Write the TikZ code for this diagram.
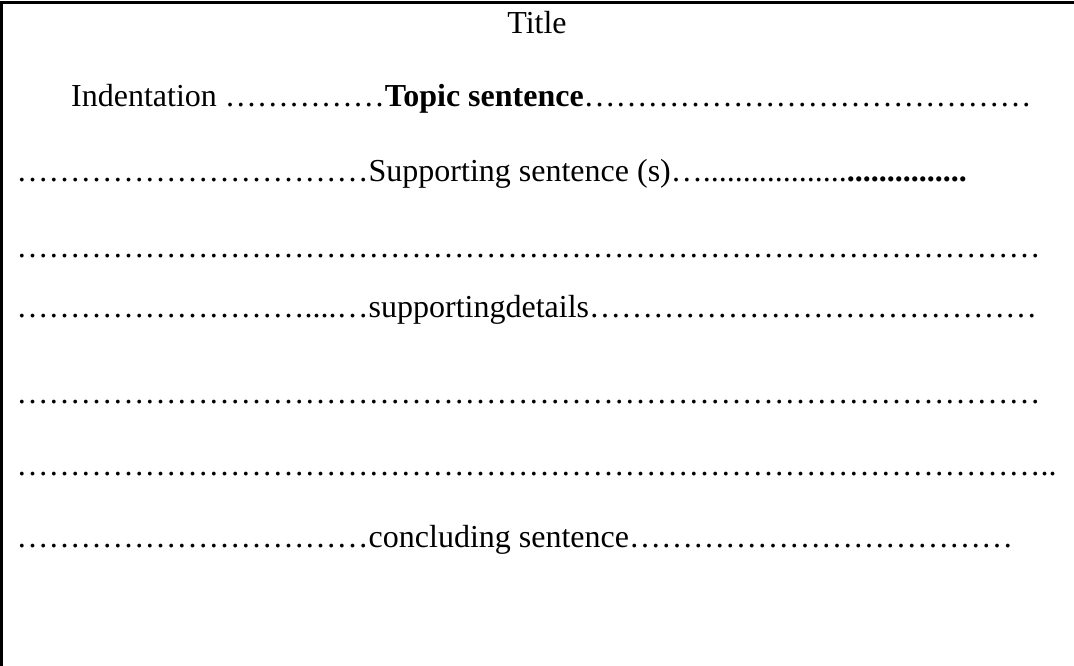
\documentclass[tikz,border=0pt]{standalone}
\usepackage{fontspec}
\setmainfont{Liberation Serif}
\newcommand\repx[2]{\foreach \k in {1,...,#1}{#2}}
\begin{document}
\begin{tikzpicture}[x=1pt,y=-1pt,
  txt/.style={font=\fontsize{32}{38}\selectfont, inner sep=0pt, anchor=base west},
  frame/.style={line width=3pt}]
\useasboundingbox (0,0) rectangle (1074,666);
\draw[frame] (1.5,666) -- (1.5,2.5) -- (1074,2.5);
\node[txt, anchor=base] (title) at (537,34) {Title};
\node[txt] (topic) at (71,107) {Indentation \repx{5}{…}\textbf{Topic sentence}\repx{14}{…}};
\node[txt] (support) at (16.5,182) {\repx{11}{…}Supporting sentence (s)…\repx{18}{.}\textbf{\repx{15}{.}}};
\node[txt] (row4) at (16.5,257) {\repx{32}{…}};
\node[txt] (details) at (16.5,317) {\repx{9}{…}....…supportingdetails\repx{14}{…}};
\node[txt] (row6) at (16.5,403) {\repx{32}{…}};
\node[txt] (row7) at (16.5,475) {\repx{32}{…}..};
\node[txt] (conclude) at (16.5,547) {\repx{11}{…}concluding sentence\repx{12}{…}};
\end{tikzpicture}
\end{document}
